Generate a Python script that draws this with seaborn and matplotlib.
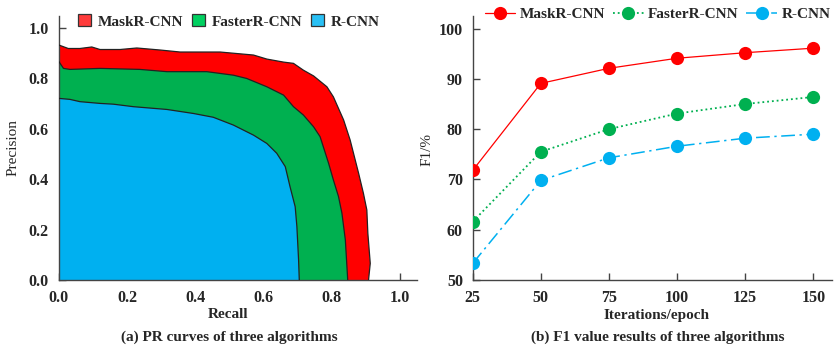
import matplotlib
matplotlib.use("Agg")
import matplotlib.pyplot as plt
import seaborn as sns
import pandas as pd
from matplotlib.patches import Patch
from matplotlib.lines import Line2D

sns.set_theme(style="white")
plt.rcParams['font.family'] = ['Liberation Serif', 'DejaVu Serif']

# ---------------- data ----------------
names = ["MaskR-CNN", "FasterR-CNN", "R-CNN"]
colors = ["#FF0000", "#00B050", "#00B0F0"]

mask_recall = [0.0, 0.028, 0.062, 0.097, 0.121, 0.18, 0.229, 0.297, 0.356, 0.473, 0.571, 0.61,
               0.659, 0.688, 0.717, 0.747, 0.786, 0.805, 0.835, 0.854, 0.879, 0.893, 0.903,
               0.906, 0.913, 0.908]
mask_prec = [0.933, 0.919, 0.919, 0.925, 0.915, 0.915, 0.921, 0.913, 0.905, 0.905, 0.893, 0.877,
             0.865, 0.860, 0.833, 0.810, 0.767, 0.727, 0.635, 0.556, 0.423, 0.344, 0.278,
             0.185, 0.066, 0.0]

faster_recall = [0.0, 0.014, 0.033, 0.121, 0.238, 0.317, 0.434, 0.512, 0.551, 0.61, 0.659, 0.688,
                 0.717, 0.747, 0.766, 0.791, 0.805, 0.82, 0.83, 0.84, 0.847]
faster_prec = [0.868, 0.840, 0.836, 0.840, 0.836, 0.827, 0.827, 0.813, 0.800, 0.767, 0.734, 0.688,
               0.655, 0.608, 0.569, 0.463, 0.397, 0.331, 0.265, 0.159, 0.0]

rcnn_recall = [0.0, 0.033, 0.062, 0.121, 0.16, 0.219, 0.317, 0.395, 0.453, 0.512, 0.571, 0.61,
               0.639, 0.664, 0.678, 0.693, 0.698, 0.703, 0.705]
rcnn_prec = [0.721, 0.717, 0.708, 0.701, 0.698, 0.688, 0.677, 0.661, 0.646, 0.615, 0.575, 0.542,
             0.503, 0.450, 0.370, 0.291, 0.212, 0.079, 0.0]

iterations = [25, 50, 75, 100, 125, 150]
f1_mask = [71.8, 89.1, 92.1, 94.1, 95.2, 96.1]
f1_faster = [61.6, 75.5, 80.0, 83.1, 85.0, 86.4]
f1_rcnn = [53.3, 69.8, 74.3, 76.6, 78.2, 79.0]

xticks_left = [0.0, 0.2, 0.4, 0.6, 0.8, 1.0]
yticks_left = [0.0, 0.2, 0.4, 0.6, 0.8, 1.0]
yticks_right = [50, 60, 70, 80, 90, 100]

# ---------------- figure ----------------
fig = plt.figure(figsize=(8.39, 3.5), dpi=100)
W, H = 839, 350
ax1 = fig.add_axes([58.7 / W, 1 - 280 / H, (417 - 58.7) / W, (280 - 16) / H])
ax2 = fig.add_axes([472.7 / W, 1 - 280 / H, (831.7 - 472.7) / W, (280 - 16) / H])

fs = 11
tfs = 11.5
bold = dict(fontweight="bold", fontsize=fs)
tbold = dict(fontweight="bold", fontsize=tfs)

# ---- left panel ----
curves = [(mask_recall, mask_prec), (faster_recall, faster_prec), (rcnn_recall, rcnn_prec)]
for (r, p), c in zip(curves, colors):
    ax1.fill([0.0] + r, [0.0] + p, color=c, zorder=2, linewidth=0)
    df = pd.DataFrame({"r": r, "p": p})
    sns.lineplot(data=df, x="r", y="p", sort=False, ax=ax1, color="#222222",
                 linewidth=0.9, zorder=3, estimator=None)
ax1.set_xlim(0, 1.05)
ax1.set_ylim(0, 1.048)
ax1.set_xticks(xticks_left)
ax1.set_yticks(yticks_left)
ax1.set_xticklabels([f"{v:.1f}" for v in xticks_left], **tbold)
ax1.set_yticklabels([f"{v:.1f}" for v in yticks_left], **tbold)
ax1.set_xlabel("")
ax1.set_ylabel("")

handles1 = [Patch(facecolor=c, edgecolor="#333333", linewidth=0.9, label=n)
            for c, n in zip(["#FF3B3B", "#00D060", "#29C0F5"], names)]
ax1.legend(handles=handles1, loc="upper center", bbox_to_anchor=(0.475, 1.03), ncol=3,
           frameon=False, prop=dict(family="Liberation Serif", weight="bold", size=fs),
           handlelength=0.85, handleheight=0.85, handletextpad=0.45, columnspacing=0.55,
           borderaxespad=0)

# ---- right panel ----
styles = ["-", ":", (0, (9, 3, 1.5, 3))]
widths = [0.9, 1.3, 1.1]
series = [f1_mask, f1_faster, f1_rcnn]
for vals, c, ls, lw in zip(series, colors, styles, widths):
    sns.lineplot(x=iterations, y=vals, ax=ax2, color=c, linestyle=ls, linewidth=lw,
                 marker="o", markersize=9.5, markeredgecolor=c, markeredgewidth=0,
                 zorder=3)
ax2.set_xlim(25, 156.75)
ax2.set_ylim(50, 102.5)
ax2.set_xticks(iterations)
ax2.set_yticks(yticks_right)
ax2.set_xticklabels([str(v) for v in iterations], **tbold)
ax2.set_yticklabels([str(v) for v in yticks_right], **tbold)
ax2.set_xlabel("")
ax2.set_ylabel("")

handles2 = [Line2D([0], [0], color=c, linestyle=ls, linewidth=lw, marker="o",
                   markersize=9.5, markeredgewidth=0, label=n)
            for c, ls, lw, n in zip(colors, styles, widths, names)]
ax2.legend(handles=handles2, loc="upper center", bbox_to_anchor=(0.515, 1.055), ncol=3,
           frameon=False, prop=dict(family="Liberation Serif", weight="bold", size=fs),
           handlelength=2.0, handletextpad=0.3, columnspacing=0.5, borderaxespad=0)

for ax in (ax1, ax2):
    for s in ("top", "right"):
        ax.spines[s].set_visible(False)
    for s in ("left", "bottom"):
        ax.spines[s].set_color("#444444")
        ax.spines[s].set_linewidth(1.0)
    ax.tick_params(direction="in", length=5, width=1.0, color="#444444",
                   pad=7, labelsize=tfs, bottom=True, left=True)
    ax.set_facecolor("white")
    ax.grid(False)

# labels & captions
fig.text(228 / W, 1 - 315 / H, "Recall", ha="center", va="center", **bold)
fig.text(229 / W, 1 - 337 / H, "(a) PR curves of three algorithms", ha="center", va="center", **bold)
fig.text(13 / W, 1 - 148 / H, "Precision", ha="center", va="center", rotation=90, fontsize=fs)
fig.text(656.7 / W, 1 - 315 / H, "Iterations/epoch", ha="center", va="center", **bold)
fig.text(658 / W, 1 - 337 / H, "(b) F1 value results of three algorithms", ha="center", va="center", **bold)
fig.text(427 / W, 1 - 150 / H, "F1/%", ha="center", va="center", rotation=90, fontsize=fs)

fig.savefig("out.png", dpi=100, facecolor="white")
